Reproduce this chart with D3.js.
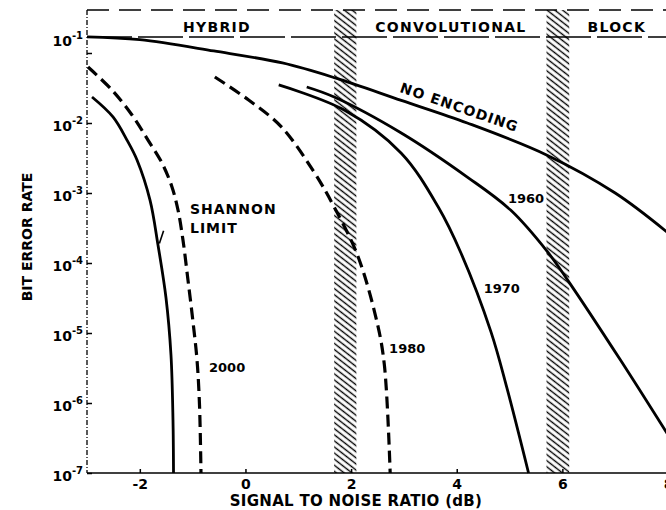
<!DOCTYPE html>
<html>
<head>
<meta charset="utf-8">
<script src="https://cdn.jsdelivr.net/npm/d3@7"></script>
<style>
  body { margin: 0; background: #fff; }
  text { font-family: "DejaVu Sans", "Liberation Sans", sans-serif; font-weight: bold; fill: #000; }
</style>
</head>
<body>
<div id="chart"></div>
<script>
// curves: [signal to noise ratio (dB), bit error rate]
const noEncoding = [[-3, 0.17], [-2, 0.155], [-0.6, 0.107], [0.7, 0.072], [1.7, 0.044], [2.95, 0.021], [4.2, 0.010], [5.7, 0.0035], [7.0, 0.001], [8.0, 0.00027]];
const shannonLimit = [[-2.905, 0.0235], [-2.508, 0.0122], [-2.243, 0.0057], [-2.053, 0.00296], [-1.807, 0.00079], [-1.656, 0.000181], [-1.504, 3.16e-5], [-1.41, 4.85e-6], [-1.372, 5.7e-7], [-1.362, 1e-7]];
const year1960 = [[1.16, 0.0327], [1.68, 0.0235], [2.95, 0.0072], [4.2, 0.00169], [5.02, 0.00057], [5.72, 0.000144], [6.1, 5.7e-5], [7.1, 4.1e-6], [8.0, 3.5e-7]];
const year1970 = [[0.63, 0.035], [1.87, 0.0153], [2.95, 0.0037], [3.65, 0.00063], [4.08, 0.000139], [4.65, 1.03e-5], [4.95, 1.64e-6], [5.36, 1e-7]];
const year1980 = [[-0.58, 0.0454], [0.06, 0.0213], [0.68, 0.0088], [1.31, 0.00193], [1.68, 0.00063], [2.12, 0.00013], [2.49, 1.44e-5], [2.63, 3.5e-6], [2.74, 1e-7]];
const year2000 = [[-2.981, 0.063], [-2.527, 0.0296], [-2.148, 0.013], [-1.845, 0.00571], [-1.58, 0.00268], [-1.391, 0.00122], [-1.277, 0.000571], [-1.183, 0.000213], [-1.088, 5.7e-5], [-0.993, 1.44e-5], [-0.917, 4.1e-6], [-0.87, 9.4e-7], [-0.842, 1e-7]];

// hatched boundaries between the coding regions (dB)
const bands = [[1.68, 2.1], [5.7, 6.13]];
const regions = [
  { name: 'HYBRID', x: -0.54 },
  { name: 'CONVOLUTIONAL', x: 3.89 },
  { name: 'BLOCK', x: 7.03 },
];

const xTicks = [-2, 0, 2, 4, 6, 8];
const yTicks = [1e-1, 1e-2, 1e-3, 1e-4, 1e-5, 1e-6, 1e-7];

// curve labels: text, dB, BER at the baseline start
const curveLabels = [
  { text: 'SHANNON', x: -1.05, y: 5.0e-4 },
  { text: 'LIMIT', x: -1.05, y: 2.7e-4 },
  { text: '2000', x: -0.69, y: 2.77e-6 },
  { text: '1980', x: 2.72, y: 5.2e-6 },
  { text: '1970', x: 4.51, y: 3.7e-5 },
  { text: '1960', x: 4.97, y: 7.2e-4 },
];
// little leader from the SHANNON LIMIT label to its curve
const shannonLeader = [[-1.63, 1.9e-4], [-1.55, 2.9e-4]];

const width = 666;
const height = 510;
const plotTop = 10;
const plotBottom = 473;
const plotLeft = 87;

const svg = d3.select('#chart').append('svg').attr('width', width).attr('height', height);

const x = d3.scaleLinear().domain([-3, 8]).range([plotLeft, 668]);
const y = d3.scaleLog().domain([1e-7, 1e-1]).range([plotBottom, 53]);

// diagonal hatch
const defs = svg.append('defs');
defs.append('pattern')
  .attr('id', 'hatch')
  .attr('patternUnits', 'userSpaceOnUse')
  .attr('width', 10)
  .attr('height', 4.8)
  .attr('patternTransform', 'rotate(38)')
  .append('line')
  .attr('x1', 0).attr('y1', 2.4)
  .attr('x2', 10).attr('y2', 2.4)
  .attr('stroke', '#000')
  .attr('stroke-width', 1.4);

svg.selectAll('rect.band')
  .data(bands)
  .enter()
  .append('rect')
  .attr('class', 'band')
  .attr('x', (d) => x(d[0]))
  .attr('y', plotTop)
  .attr('width', (d) => x(d[1]) - x(d[0]))
  .attr('height', plotBottom - plotTop)
  .attr('fill', 'url(#hatch)');

// frame: dashed top, header line, broken left axis, bottom axis
svg.append('line')
  .attr('x1', plotLeft).attr('x2', width).attr('y1', plotTop).attr('y2', plotTop)
  .attr('stroke', '#000').attr('stroke-width', 1.6).attr('stroke-dasharray', '22,10');
svg.append('line')
  .attr('x1', plotLeft).attr('x2', width).attr('y1', 37).attr('y2', 37)
  .attr('stroke', '#000').attr('stroke-width', 1.6).attr('stroke-dasharray', '45,6');
svg.append('line')
  .attr('x1', plotLeft).attr('x2', plotLeft).attr('y1', plotTop).attr('y2', plotBottom)
  .attr('stroke', '#000').attr('stroke-width', 1.3).attr('stroke-dasharray', '5,2,1,2');
svg.append('line')
  .attr('x1', plotLeft).attr('x2', width).attr('y1', plotBottom).attr('y2', plotBottom)
  .attr('stroke', '#000').attr('stroke-width', 1.7);

svg.selectAll('text.region')
  .data(regions)
  .enter()
  .append('text')
  .attr('class', 'region')
  .attr('x', (d) => x(d.x))
  .attr('y', 32)
  .attr('text-anchor', 'middle')
  .style('font-size', '14px')
  .style('letter-spacing', '1.3px')
  .text((d) => d.name);

// axes
const xAxis = svg.append('g')
  .attr('transform', `translate(0,${plotBottom})`)
  .call(d3.axisBottom(x).tickValues(xTicks).tickSize(-4).tickPadding(6).tickFormat((d) => String(d)));
xAxis.select('.domain').remove();
xAxis.selectAll('line').attr('stroke-width', 1.5);
xAxis.selectAll('text').style('font-size', '14px').attr('font-family', null);

const yAxis = svg.append('g')
  .attr('transform', `translate(${plotLeft},0)`)
  .call(d3.axisLeft(y).tickValues(yTicks).tickSize(-5).tickPadding(4));
yAxis.select('.domain').remove();
yAxis.selectAll('line').attr('stroke-width', 1.5);
yAxis.selectAll('text')
  .attr('font-family', null)
  .attr('dy', (d) => (d === 1e-1 ? '-0.75em' : '0.72em'))
  .each(function (d) {
    const t = d3.select(this).text('');
    t.append('tspan').style('font-size', '14px').text('10');
    t.append('tspan').style('font-size', '10px').attr('dy', '-0.7em').text(`-${Math.round(-Math.log10(d))}`);
  });

// curves
const line = d3.line()
  .x((d) => x(d[0]))
  .y((d) => y(d[1]))
  .curve(d3.curveCatmullRom.alpha(0.5));

const curves = [
  { data: noEncoding, dash: null },
  { data: shannonLimit, dash: null },
  { data: year1960, dash: null },
  { data: year1970, dash: null },
  { data: year1980, dash: '12,6' },
  { data: year2000, dash: '12,6' },
];

svg.selectAll('path.curve')
  .data(curves)
  .enter()
  .append('path')
  .attr('class', 'curve')
  .attr('d', (d) => line(d.data))
  .attr('fill', 'none')
  .attr('stroke', '#000')
  .attr('stroke-width', (d) => (d.dash ? 3.2 : 2.8))
  .attr('stroke-dasharray', (d) => d.dash);

svg.append('path')
  .attr('d', d3.line().x((d) => x(d[0])).y((d) => y(d[1]))(shannonLeader))
  .attr('stroke', '#000')
  .attr('stroke-width', 1.6);

svg.selectAll('text.label')
  .data(curveLabels)
  .enter()
  .append('text')
  .attr('class', 'label')
  .attr('x', (d) => x(d.x))
  .attr('y', (d) => y(d.y))
  .style('font-size', (d) => (d.text.length > 4 ? '14px' : '13px'))
  .style('letter-spacing', (d) => (d.text.length > 4 ? '1px' : '0px'))
  .text((d) => d.text);

svg.append('text')
  .attr('transform', `translate(${x(4.02)},${y(0.0144)}) rotate(19)`)
  .attr('text-anchor', 'middle')
  .style('font-size', '14px')
  .style('letter-spacing', '1.1px')
  .text('NO ENCODING');

// axis titles
svg.append('text')
  .attr('x', 356)
  .attr('y', 506)
  .attr('text-anchor', 'middle')
  .style('font-size', '15px')
  .style('letter-spacing', '0.3px')
  .text('SIGNAL TO NOISE RATIO (dB)');

svg.append('text')
  .attr('transform', 'translate(32,237) rotate(-90)')
  .attr('text-anchor', 'middle')
  .style('font-size', '14px')
  .text('BIT ERROR RATE');
</script>
</body>
</html>
